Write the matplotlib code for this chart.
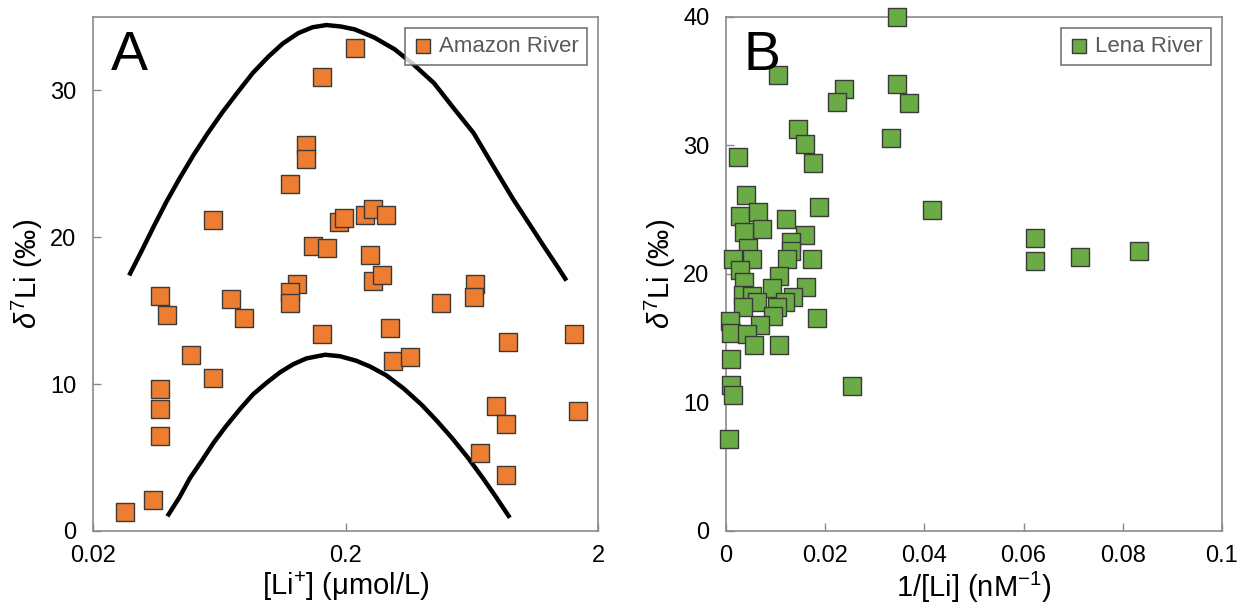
import matplotlib

matplotlib.use("Agg")
import matplotlib.pyplot as plt

# Panel A: Amazon River, [Li+] (umol/L) vs d7Li (permil)
amazon_li = [
    0.218, 0.161, 0.139, 0.139, 0.120, 0.0596, 0.189, 0.198, 0.239, 0.258,
    0.289, 0.149, 0.169, 0.249, 0.258, 0.279, 0.129, 0.120, 0.654, 0.643,
    0.120, 0.0369, 0.0391, 0.0701, 0.0794, 0.479, 0.0489, 0.0596, 0.161, 0.299,
    0.307, 0.359, 1.61, 0.883, 0.0369, 0.0369, 0.0369, 0.792, 0.867, 1.66,
    0.679, 0.867, 0.0347, 0.0268,
]
amazon_d7li = [
    32.9, 30.9, 26.3, 25.3, 23.6, 21.2, 21.05, 21.3, 21.5, 21.95,
    21.5, 19.4, 19.3, 18.8, 17.05, 17.4, 16.8, 16.3, 16.8, 15.95,
    15.5, 16.0, 14.7, 15.8, 14.5, 15.55, 11.95, 10.4, 13.4, 13.8,
    11.55, 11.85, 13.4, 12.85, 9.65, 8.3, 6.5, 8.5, 7.3, 8.2,
    5.3, 3.8, 2.1, 1.3,
]

# envelope curves
upper_curve_li = [
    0.0278, 0.031, 0.0347, 0.039, 0.044, 0.050, 0.057, 0.065, 0.075, 0.086,
    0.099, 0.113, 0.13, 0.148, 0.168, 0.192, 0.218, 0.26, 0.313, 0.37,
    0.448, 0.53, 0.643, 0.76, 0.922, 1.07, 1.23, 1.37, 1.50,
]
upper_curve_d7li = [
    17.4, 19.0, 20.7, 22.4, 24.0, 25.6, 27.1, 28.5, 29.9, 31.2,
    32.3, 33.2, 33.9, 34.3, 34.45, 34.35, 34.15, 33.6, 32.8, 31.8,
    30.5, 28.9, 27.1, 25.0, 22.6, 20.9, 19.3, 18.1, 17.05,
]
lower_curve_li = [
    0.0394, 0.044, 0.0484, 0.054, 0.060, 0.067, 0.0764, 0.086, 0.0975, 0.11,
    0.124, 0.14, 0.166, 0.19, 0.22, 0.25, 0.29, 0.34, 0.40, 0.46,
    0.53, 0.61, 0.70, 0.79, 0.895,
]
lower_curve_d7li = [
    1.0, 2.3, 3.6, 4.8, 6.0, 7.1, 8.3, 9.3, 10.1, 10.8,
    11.35, 11.75, 12.0, 11.9, 11.6, 11.2, 10.6, 9.7, 8.6, 7.5,
    6.3, 5.0, 3.6, 2.3, 0.9,
]

# Panel B: Lena River, 1/[Li] (nM^-1) vs d7Li (permil)
lena_inv_li = [
    0.0345, 0.0104, 0.0238, 0.0223, 0.0345, 0.0369, 0.0146, 0.0160, 0.0333, 0.0024,
    0.0175, 0.0415, 0.0624, 0.0624, 0.0714, 0.0832,
    0.0040, 0.01875, 0.0028, 0.0065, 0.0121, 0.0072, 0.0036, 0.0159, 0.0132, 0.0045,
    0.0132, 0.0015, 0.0052, 0.0122, 0.0173, 0.0028, 0.0107, 0.0092, 0.0161, 0.0036,
    0.0035, 0.0052, 0.0062, 0.0136, 0.0119, 0.0102, 0.0035, 0.0183, 0.0094, 0.0008,
    0.0069, 0.0010, 0.0042, 0.0057, 0.0106, 0.0011, 0.0011, 0.0015, 0.0255, 0.0006,
]
lena_d7li = [
    40.0, 35.5, 34.4, 33.35, 34.8, 33.3, 31.3, 30.1, 30.6, 29.1,
    28.6, 25.0, 22.8, 21.0, 21.3, 21.8,
    26.15, 25.2, 24.5, 24.8, 24.25, 23.5, 23.25, 23.05, 22.5, 22.0,
    21.75, 21.2, 21.2, 21.15, 21.15, 20.3, 19.85, 18.9, 18.95, 19.4,
    18.35, 18.3, 17.85, 18.2, 17.85, 17.45, 17.4, 16.6, 16.7, 16.35,
    16.0, 15.4, 15.35, 14.5, 14.5, 13.35, 11.35, 10.6, 11.25, 7.15,
]

A_XTICKS = [0.02, 0.2, 2]
A_XTICKLABELS = ["0.02", "0.2", "2"]
A_YTICKS = [0, 10, 20, 30]
B_XTICKS = [0, 0.02, 0.04, 0.06, 0.08, 0.1]
B_XTICKLABELS = ["0", "0.02", "0.04", "0.06", "0.08", "0.1"]
B_YTICKS = [0, 10, 20, 30, 40]

ORANGE = "#ED7D31"
GREEN = "#6AAB45"
EDGE = "#3a3a3a"
SPINE = "#8a8a8a"


def configure_style() -> None:
    plt.rcParams.update(
        {
            "font.family": ["Liberation Sans", "DejaVu Sans"],
            "mathtext.fontset": "custom",
            "mathtext.rm": "Liberation Sans",
            "mathtext.it": "Liberation Sans:italic",
            "mathtext.bf": "Liberation Sans:bold",
            "figure.dpi": 100,
        }
    )


def style_axes(ax) -> None:
    for spine in ax.spines.values():
        spine.set_color(SPINE)
        spine.set_linewidth(1.2)
    ax.tick_params(direction="in", length=6, width=1.0, color=SPINE,
                   labelsize=17, top=False, right=False)
    ax.tick_params(axis="y", pad=12)
    ax.tick_params(axis="x", pad=10)
    ax.minorticks_off()


def add_legend(ax, label, color) -> None:
    ax.scatter([], [], marker="s", s=105, facecolor=color, edgecolor=EDGE,
               linewidth=1.0, label=label)
    leg = ax.legend(loc="upper right", fontsize=16, frameon=True, fancybox=False,
                    handletextpad=0.3, borderpad=0.35, handlelength=0.9,
                    borderaxespad=0.5, markerscale=1.0)
    leg.get_frame().set_edgecolor("#555555")
    leg.get_frame().set_linewidth(1.2)
    for text in leg.get_texts():
        text.set_color("#595959")


def plot_amazon(ax) -> None:
    ax.plot(upper_curve_li, upper_curve_d7li, color="black", linewidth=3.2,
            solid_capstyle="butt", solid_joinstyle="round", zorder=2)
    ax.plot(lower_curve_li, lower_curve_d7li, color="black", linewidth=3.2,
            solid_capstyle="butt", solid_joinstyle="round", zorder=2)
    ax.scatter(amazon_li, amazon_d7li, marker="s", s=150, facecolor=ORANGE,
               edgecolor=EDGE, linewidth=1.0, zorder=3)
    ax.set_xscale("log")
    ax.set_xlim(0.02, 2)
    ax.set_ylim(0, 35)
    ax.set_xticks(A_XTICKS)
    ax.set_xticklabels(A_XTICKLABELS)
    ax.set_yticks(A_YTICKS)
    style_axes(ax)
    ax.set_xlabel(r"[Li$^{+}$] ($\mathrm{\mu}$mol/L)", fontsize=21, labelpad=2)
    ax.set_ylabel(r"$\delta^{7}$Li (‰)", fontsize=21, labelpad=4)
    ax.text(0.035, 0.975, "A", transform=ax.transAxes, fontsize=40,
            ha="left", va="top")
    add_legend(ax, "Amazon River", ORANGE)


def plot_lena(ax) -> None:
    ax.scatter(lena_inv_li, lena_d7li, marker="s", s=150, facecolor=GREEN,
               edgecolor=EDGE, linewidth=1.0, zorder=3, clip_on=False)
    ax.set_xlim(0, 0.1)
    ax.set_ylim(0, 40)
    ax.set_xticks(B_XTICKS)
    ax.set_xticklabels(B_XTICKLABELS)
    ax.set_yticks(B_YTICKS)
    style_axes(ax)
    ax.set_xlabel(r"1/[Li] (nM$^{-1}$)", fontsize=21, labelpad=2)
    ax.set_ylabel(r"$\delta^{7}$Li (‰)", fontsize=21, labelpad=4)
    ax.text(0.035, 0.975, "B", transform=ax.transAxes, fontsize=40,
            ha="left", va="top")
    add_legend(ax, "Lena River", GREEN)


def main() -> None:
    configure_style()
    fig = plt.figure(figsize=(12.44, 6.13), dpi=100)
    ax_a = fig.add_axes([0.0748, 0.1338, 0.4059, 0.8385])
    ax_b = fig.add_axes([0.5836, 0.1338, 0.3987, 0.8385])
    plot_amazon(ax_a)
    plot_lena(ax_b)
    fig.savefig("out.png", dpi=100)
    plt.close(fig)


if __name__ == "__main__":
    main()
